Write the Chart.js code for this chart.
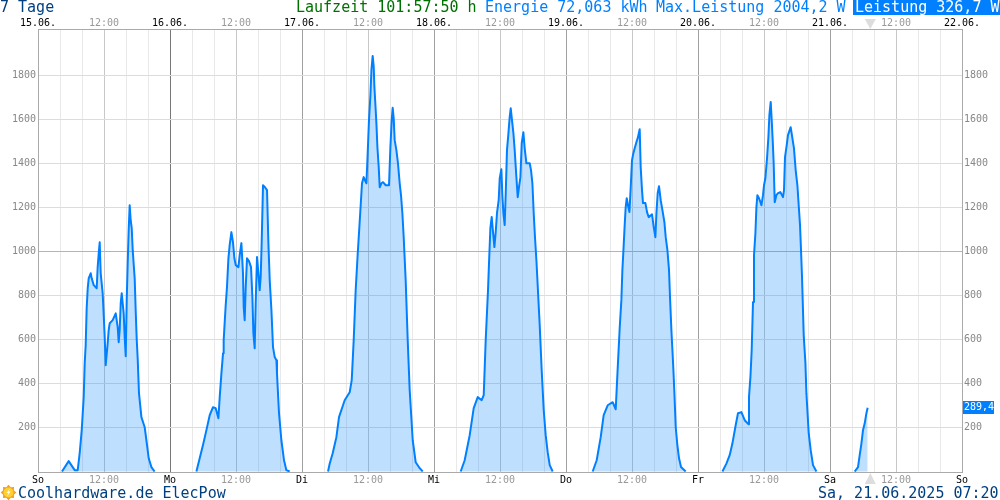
<!DOCTYPE html>
<html>
<head>
<meta charset="utf-8">
<title>ElecPow</title>
<script src="https://cdn.jsdelivr.net/npm/chart.js@4/dist/chart.umd.min.js"></script>
<style>
html, body { margin: 0; padding: 0; background: #fff; }
canvas { display: block; }
</style>
</head>
<body>
<canvas id="chart" width="1000" height="500"></canvas>
<script>
// hours since midnight and watts, one pair per day
const sunHours = [4.36,5.58,6.67,7.22,7.58,7.95,8.31,8.49,8.67,8.85,9.04,9.22,9.58,9.76,10.13,10.67,10.85,11.04,11.22,11.4,11.76,11.95,12.13,12.31,12.67,12.85,13.04,13.58,14.13,14.49,14.67,14.85,15.04,15.22,15.58,15.76,15.95,16.13,16.31,16.49,16.67,16.85,17.04,17.22,17.58,17.76,17.95,18.13,18.36,18.8,19.4,19.71,20.13,20.62,21.2];
const sunWatts = [0,47,6,6,83,188,338,492,574,742,833,878,901,878,847,833,929,992,1042,901,810,710,610,483,583,642,674,688,719,656,588,642,765,810,719,610,524,779,946,1100,1210,1142,1106,1006,878,733,600,510,356,247,201,142,60,20,0];

const monHours = [4.8,5.4,6.0,6.62,7.22,7.82,8.31,8.8,9.04,9.35,9.64,9.76,9.95,10.13,10.36,10.62,10.85,11.16,11.45,11.71,11.95,12.44,12.67,12.98,13.27,13.4,13.58,13.76,14.0,14.36,14.73,14.98,15.16,15.4,15.58,15.82,16.07,16.31,16.49,16.67,16.91,17.27,17.64,17.89,18.13,18.44,18.73,19.04,19.35,19.45,19.82,20.25,20.73,21.16,21.76];
const monWatts = [0,60,120,188,256,292,288,242,338,447,537,597,680,756,838,969,1029,1088,1042,969,938,929,983,1038,901,747,688,833,969,956,929,792,629,560,765,975,901,824,885,1042,1301,1292,1279,1038,870,733,565,520,506,447,265,142,51,6,0];

const tueHours = [4.73,5.04,5.58,6.25,6.73,7.76,8.67,9.04,9.4,9.76,10.13,10.49,10.67,10.91,11.22,11.45,11.71,11.89,12.18,12.44,12.62,12.85,13.04,13.16,13.35,13.53,13.71,13.95,14.13,14.44,14.73,15.22,15.82,16.07,16.31,16.49,16.67,16.85,17.16,17.45,17.76,18.0,18.25,18.49,18.85,19.22,19.58,20.13,20.67,21.4,21.95];
const tueWatts = [0,36,83,156,247,324,360,415,597,824,990,1135,1210,1310,1338,1324,1310,1415,1597,1710,1824,1889,1839,1748,1665,1582,1474,1383,1292,1310,1315,1301,1301,1474,1597,1653,1606,1506,1461,1401,1310,1256,1174,1065,870,597,370,142,42,15,0];

const wedHours = [4.85,5.58,6.49,7.22,7.95,8.67,9.04,9.4,9.82,10.0,10.25,10.49,10.73,10.98,11.22,11.45,11.76,11.95,12.25,12.44,12.62,12.85,13.04,13.27,13.53,13.76,13.95,14.18,14.44,14.67,14.98,15.22,15.45,15.71,15.95,16.25,16.49,16.8,17.4,17.64,17.89,18.13,18.36,18.62,18.85,19.22,19.58,19.95,20.31,20.67,21.04,21.58];
const wedWatts = [0,51,165,288,338,324,347,597,824,946,1106,1157,1088,1020,1088,1174,1233,1333,1374,1247,1174,1120,1265,1461,1537,1611,1651,1597,1537,1461,1338,1247,1292,1338,1492,1542,1469,1401,1401,1370,1310,1174,1065,960,847,665,460,279,165,88,29,0];

const thuHours = [4.85,5.58,6.31,6.85,7.58,8.49,9.04,9.4,9.76,10.07,10.25,10.49,10.67,10.85,11.04,11.27,11.53,11.76,12.0,12.25,12.49,12.8,13.04,13.4,13.58,13.82,14.0,14.44,14.73,15.04,15.64,15.95,16.25,16.44,16.67,16.91,17.22,17.53,17.89,18.13,18.44,18.73,18.91,19.16,19.35,19.53,19.71,19.95,20.25,20.55,20.91,21.76];
const thuWatts = [0,51,156,256,301,315,283,470,650,780,915,1029,1120,1201,1242,1210,1179,1288,1415,1447,1469,1497,1515,1556,1383,1279,1220,1220,1179,1156,1169,1111,1065,1174,1265,1297,1233,1188,1134,1065,1006,915,793,643,551,460,356,201,120,60,20,0];

const friHours = [4.44,5.16,5.76,6.25,6.85,7.27,7.89,8.49,9.16,9.27,9.53,9.76,10.0,10.18,10.44,10.62,10.8,11.09,11.35,11.53,11.82,12.0,12.25,12.55,12.8,12.98,13.22,13.4,13.58,13.76,13.95,14.25,14.55,14.98,15.45,15.64,15.82,16.13,16.36,16.85,17.16,17.45,17.76,18.07,18.31,18.55,18.73,18.91,19.22,19.53,19.71,20.13,20.49,20.91,21.53];
const friWatts = [0,36,74,127,210,265,270,233,215,338,429,551,770,983,1083,1202,1256,1242,1224,1210,1256,1301,1333,1424,1520,1620,1680,1597,1506,1401,1224,1256,1265,1270,1247,1279,1429,1483,1529,1565,1515,1469,1370,1301,1210,1120,1006,885,620,492,356,174,97,29,0];

const satHours = [4.49,5.09,5.4,5.71,6.0,6.31,6.62,6.85];
const satWatts = [0,20,74,127,188,219,265,289.4];

const topLabels = ['15.06.','12:00','16.06.','12:00','17.06.','12:00','18.06.','12:00','19.06.','12:00','20.06.','12:00','21.06.','12:00','22.06.'];
const bottomLabels = ['So','12:00','Mo','12:00','Di','12:00','Mi','12:00','Do','12:00','Fr','12:00','Sa','12:00','So'];
const yTicks = [200,400,600,800,1000,1200,1400,1600,1800];
const nowHour = 151.33;
const lastValue = 289.4;

const days = [[sunHours,sunWatts],[monHours,monWatts],[tueHours,tueWatts],[wedHours,wedWatts],[thuHours,thuWatts],[friHours,friWatts],[satHours,satWatts]];

// one series, null between the days so the line breaks during the night
const points = [];
days.forEach((d, i) => {
    d[0].forEach((h, j) => points.push({ x: i * 24 + h, y: d[1][j] }));
    points.push({ x: i * 24 + 23.5, y: null });
});

const MONO = '"DejaVu Sans Mono", monospace';
const BLUE = '#0080ff';
const DARK = '#004080';

function xTicks(scale) {
    const t = [];
    for (let h = 0; h <= 168; h += 4) t.push({ value: h });
    scale.ticks = t;
}

function xLabel(list) {
    return function (value) {
        return value % 12 === 0 ? list[value / 12] : '';
    };
}

function xColor(ctx) {
    return ctx.tick.value % 24 === 0 ? '#000' : '#999';
}

function gridColor(ctx) {
    const v = ctx.tick.value;
    if (v === 24) return '#777';
    if (v % 24 === 0) return '#a0a0a0';
    if (v % 12 === 0) return '#c8c8c8';
    return '#e9e9e9';
}

function yAxis(position, showGrid) {
    return {
        type: 'linear',
        position: position,
        min: -2.3,
        max: 2011.3,
        afterBuildTicks: s => { s.ticks = yTicks.map(v => ({ value: v })); },
        afterFit: s => { s.width = 38; },
        border: { display: true, color: '#aaa' },
        grid: {
            display: showGrid,
            drawTicks: false,
            color: c => c.tick.value === 1000 ? '#b4b4b4' : '#dcdcdc'
        },
        ticks: { color: '#888', padding: 2, font: { family: MONO, size: 10 }, callback: v => String(v) }
    };
}

const decorations = {
    id: 'decorations',
    afterDraw(chart) {
        const c = chart.ctx;
        const x = chart.scales.x, y = chart.scales.y;
        c.save();
        c.textBaseline = 'alphabetic';
        c.textAlign = 'left';
        c.font = '15px ' + MONO;
        c.fillStyle = DARK;
        c.fillText('7 Tage', 0, 12);
        c.fillStyle = '#007000';
        c.fillText('Laufzeit 101:57:50 h', 296, 12);
        c.fillStyle = BLUE;
        c.fillText('Energie 72,063 kWh', 485, 12);
        c.fillText('Max.Leistung 2004,2 W', 656, 12);
        c.fillRect(853, 0, 147, 15);
        c.fillStyle = '#fff';
        c.fillText('Leistung 326,7 W', 855, 12);

        c.fillStyle = DARK;
        c.fillText('Coolhardware.de ElecPow', 18, 498);
        c.fillText('Sa, 21.06.2025 07:20', 818, 498);

        // current value box on the right axis
        const vy = y.getPixelForValue(lastValue);
        c.fillStyle = BLUE;
        c.fillRect(963, Math.round(vy) - 7, 31, 13);
        c.fillStyle = '#fff';
        c.font = '10px ' + MONO;
        c.textBaseline = 'middle';
        c.fillText('289,4', 964, vy);

        // now markers
        const nx = x.getPixelForValue(nowHour);
        c.fillStyle = '#ddd';
        c.beginPath();
        c.moveTo(nx - 5.5, 19); c.lineTo(nx + 5.5, 19); c.lineTo(nx, 29);
        c.closePath(); c.fill();
        c.beginPath();
        c.moveTo(nx - 5.5, 484); c.lineTo(nx + 5.5, 484); c.lineTo(nx, 473);
        c.closePath(); c.fill();

        // sun logo
        const sx = 8.5, sy = 492.5;
        c.fillStyle = '#f0a020';
        c.beginPath();
        for (let i = 0; i < 16; i++) {
            const r = i % 2 ? 5.8 : 7.8;
            const a = i * Math.PI / 8;
            c.lineTo(sx + r * Math.cos(a), sy + r * Math.sin(a));
        }
        c.closePath(); c.fill();
        c.fillStyle = '#ffd030';
        c.beginPath(); c.arc(sx, sy, 5, 0, Math.PI * 2); c.fill();
        c.fillStyle = '#fff';
        c.beginPath();
        c.moveTo(sx + 1.5, sy - 4); c.lineTo(sx - 2, sy + 0.5); c.lineTo(sx, sy + 0.5);
        c.lineTo(sx - 1.5, sy + 4); c.lineTo(sx + 2, sy - 1); c.lineTo(sx, sy - 1);
        c.closePath(); c.fill();
        c.restore();
    }
};

new Chart(document.getElementById('chart'), {
    type: 'line',
    data: {
        datasets: [{
            data: points,
            xAxisID: 'x',
            yAxisID: 'y',
            borderColor: BLUE,
            borderWidth: 2,
            borderJoinStyle: 'round',
            backgroundColor: 'rgba(0,128,255,0.25)',
            fill: 'origin',
            tension: 0,
            pointRadius: 0,
            spanGaps: false
        }]
    },
    options: {
        responsive: false,
        animation: false,
        events: [],
        layout: { padding: 0 },
        plugins: { legend: { display: false }, tooltip: { enabled: false }, title: { display: false } },
        scales: {
            x: {
                type: 'linear',
                position: 'bottom',
                min: 0,
                max: 168,
                afterBuildTicks: xTicks,
                afterFit: s => { s.height = 28; },
                border: { display: true, color: '#aaa' },
                grid: { drawTicks: false, color: gridColor },
                ticks: {
                    autoSkip: false, maxRotation: 0, padding: 2,
                    font: { family: MONO, size: 10 }, color: xColor,
                    callback: xLabel(bottomLabels)
                }
            },
            xTop: {
                type: 'linear',
                position: 'top',
                min: 0,
                max: 168,
                afterBuildTicks: xTicks,
                afterFit: s => { s.height = 29; },
                border: { display: true, color: '#aaa' },
                grid: { display: false, drawTicks: false },
                ticks: {
                    autoSkip: false, maxRotation: 0, padding: 0,
                    font: { family: MONO, size: 10 }, color: xColor,
                    callback: xLabel(topLabels)
                }
            },
            y: yAxis('left', true),
            yRight: yAxis('right', false)
        }
    },
    plugins: [decorations]
});
</script>
</body>
</html>
